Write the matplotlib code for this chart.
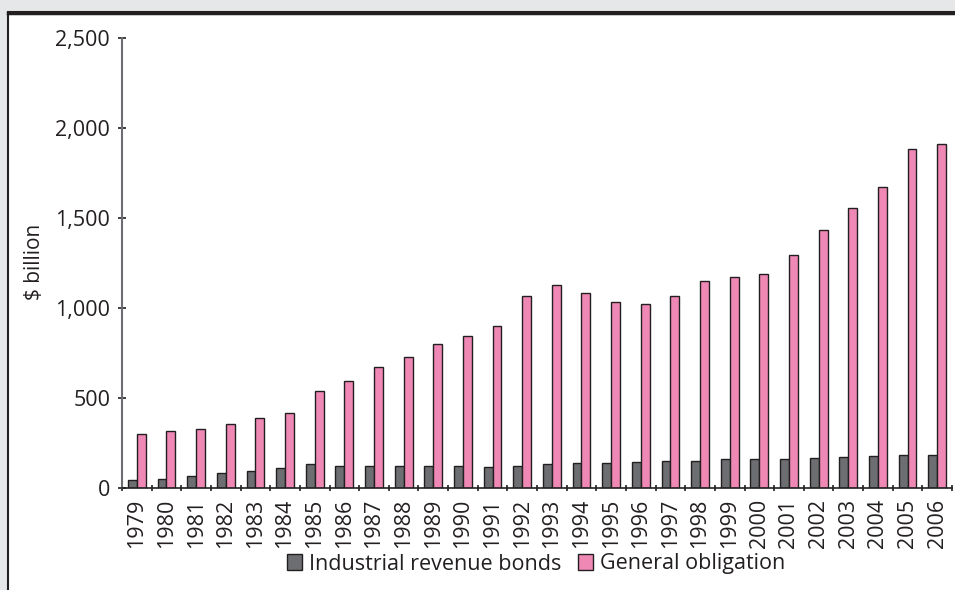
import matplotlib.pyplot as plt
import numpy as np
from matplotlib.patches import Rectangle

years = [str(y) for y in range(1979, 2007)]
industrial = [39, 50, 63, 78, 89, 110, 130, 122, 120, 120, 120, 118, 116, 122,
              128, 134, 139, 143, 145, 150, 156, 156, 161, 163, 167, 173, 178, 178]
general = [295, 312, 323, 351, 384, 412, 535, 590, 668, 724, 796, 841, 896, 1063,
           1125, 1080, 1030, 1019, 1063, 1147, 1169, 1186, 1292, 1431, 1553, 1670, 1882, 1910]

plt.rcParams['font.family'] = ['Open Sans', 'DejaVu Sans']

fig = plt.figure(figsize=(9.55, 5.9), dpi=100, facecolor="#e6e7e8")

# white panel with dark frame, behind the axes
fig.patches.append(Rectangle((8 / 955, -0.05), 1.1, 608 / 590, transform=fig.transFigure,
                             facecolor="white", edgecolor="#231f20", linewidth=1.5, zorder=-2))
fig.add_artist(plt.Line2D([8 / 955, 1.0], [577.5 / 590, 577.5 / 590], transform=fig.transFigure,
                          color="#231f20", linewidth=2.5, zorder=-1))

ax = fig.add_axes([122 / 955, 102.5 / 590, 830 / 955, 449.5 / 590])
ax.set_facecolor("none")

x = np.arange(len(years))
w = 0.30
ax.bar(x - w / 2, industrial, w, color="#6d6e71", edgecolor="#231f20", linewidth=1,
       label="Industrial revenue bonds")
ax.bar(x + w / 2, general, w, color="#f088b6", edgecolor="#231f20", linewidth=1,
       label="General obligation")

ax.set_xlim(-0.5, len(years) - 0.5)
ax.set_ylim(0, 2500)
ax.set_yticks([0, 500, 1000, 1500, 2000, 2500])
ax.set_yticklabels(["0", "500", "1,000", "1,500", "2,000", "2,500"])

ax.set_xticks(x)
ax.set_xticklabels(years, rotation=90)
ax.set_xticks(np.arange(len(years) + 1) - 0.5, minor=True)
ax.tick_params(axis="x", which="major", length=0, pad=8, labelsize=15.5, colors="#231f20")
ax.tick_params(axis="x", which="minor", direction="inout", length=5, width=1.2, color="#231f20")
ax.tick_params(axis="y", direction="inout", length=6, width=1.2, pad=5.5, labelsize=15.5,
               color="#231f20", labelcolor="#231f20")

for s in ["top", "right"]:
    ax.spines[s].set_visible(False)
ax.spines["left"].set_color("#6d6e71")
ax.spines["left"].set_linewidth(1.5)
ax.spines["bottom"].set_color("#231f20")
ax.spines["bottom"].set_linewidth(1.2)

fig.text(34 / 955, (590 - 262) / 590, "$ billion", rotation=90, ha="center", va="center",
         fontsize=15, color="#231f20")

fig.legend(loc="center", bbox_to_anchor=(536 / 955, 26 / 590), ncol=2, frameon=False,
           fontsize=15.5, handlelength=0.7, handleheight=0.7, handletextpad=0.3,
           columnspacing=0.8, labelcolor="#231f20")

fig.savefig("out.png", dpi=100, facecolor=fig.get_facecolor())
